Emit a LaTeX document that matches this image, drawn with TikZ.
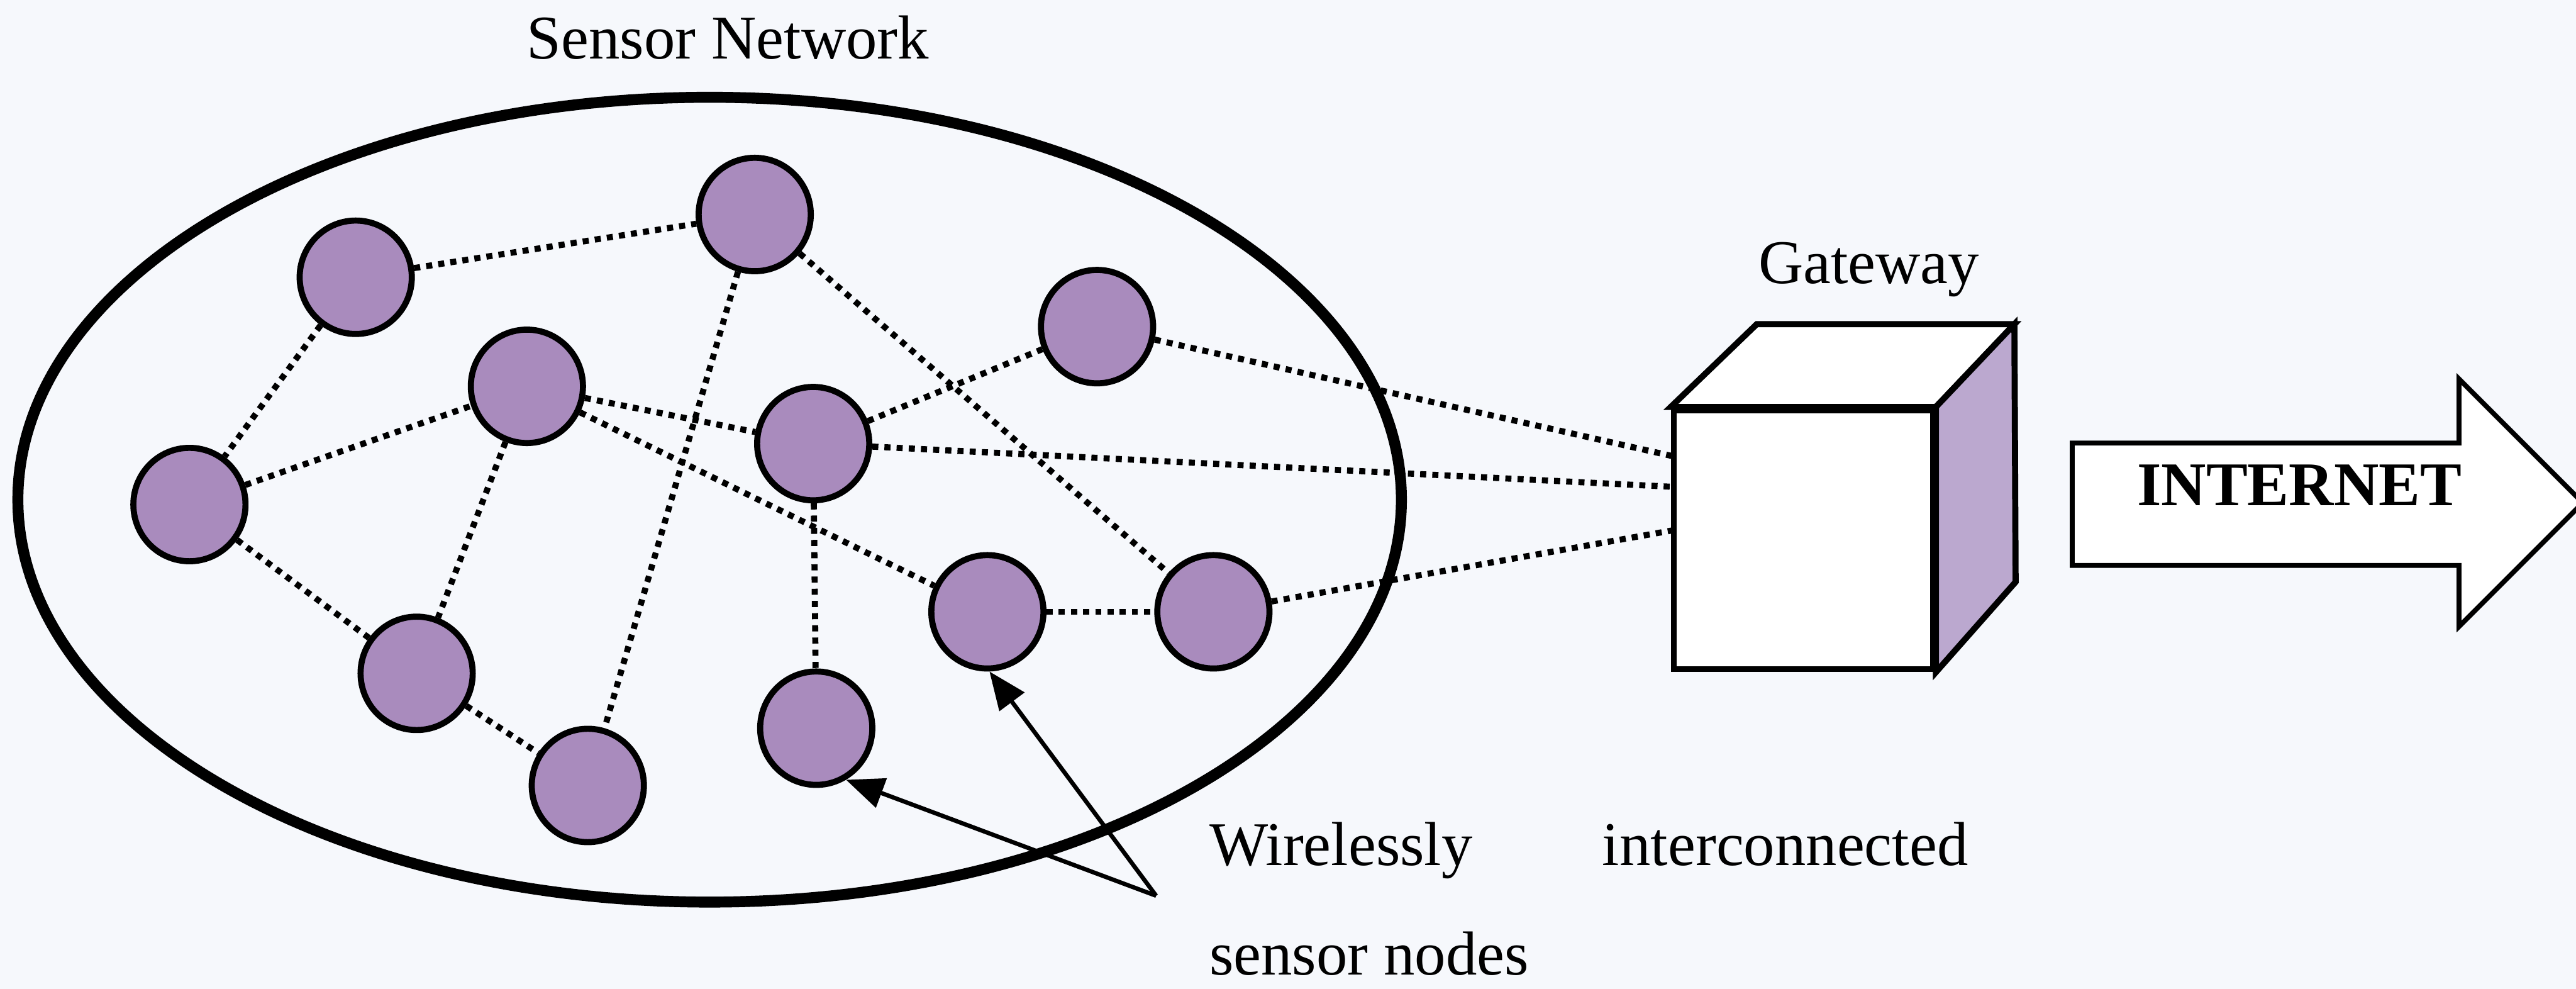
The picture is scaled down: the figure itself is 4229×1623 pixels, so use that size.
\documentclass[tikz,border=0pt]{standalone}
\usepackage{fontspec}
\setmainfont{Liberation Serif}
\usetikzlibrary{shapes.geometric,arrows.meta}

\definecolor{paper}{HTML}{F6F8FC}
\definecolor{motefill}{HTML}{A98BBD}
\definecolor{sidefill}{HTML}{BBA8CF}

\begin{document}
\begin{tikzpicture}[x=0.01cm,y=-0.01cm,
  mote/.style={ellipse, draw=black, fill=motefill, line width=0.1cm,
    minimum width=1.84cm, minimum height=1.86cm, inner sep=0pt},
  link/.style={black, line width=0.1cm, dash pattern=on 0.1cm off 0.1cm},
  txt/.style={font=\fontsize{29}{34}\selectfont, inner sep=0pt},
  pointer/.style={black, line width=0.07cm,
    -{Triangle[length=0.62cm,width=0.5cm]}},
  solid edge/.style={draw=black, line width=0.1cm, line join=miter}
]
% page
\useasboundingbox (0,0) rectangle (4229,1623);
\fill[paper] (0,0) rectangle (4229,1623);

% network boundary
\node[ellipse, draw=black, line width=0.18cm, minimum width=22.7cm,
  minimum height=13.2cm, inner sep=0pt] (field) at (1165,820) {};
\node[txt, anchor=base] (title) at (1195,97) {Sensor Network};

% sensor motes
\node[mote] (n1) at (584,455) {};
\node[mote] (n2) at (1239,352) {};
\node[mote] (n3) at (865,634) {};
\node[mote] (n4) at (1801,536) {};
\node[mote] (n5) at (1335,728) {};
\node[mote] (n6) at (311,828) {};
\node[mote] (n7) at (684,1105) {};
\node[mote] (n8) at (965,1289) {};
\node[mote] (n9) at (1340,1195) {};
\node[mote] (n10) at (1621,1004) {};
\node[mote] (n11) at (1992,1004) {};

% gateway cube
\node[draw=black, fill=white, line width=0.1cm, minimum width=4.25cm,
  minimum height=4.25cm, inner sep=0pt] (gw) at (2960.5,885.5) {};
\coordinate (gwbl) at (2884,532);
\coordinate (gwbr) at (3307,532);
\coordinate (gwbd) at (3309,955);
\filldraw[solid edge, fill=white] (gw.north west) -- (gwbl) -- (gwbr) -- (gw.north east) -- cycle;
\filldraw[solid edge, fill=sidefill] (gw.north east) -- (gwbr) -- (gwbd) -- (gw.south east) -- cycle;
\node[txt, anchor=base] (gwlabel) at (3068,465) {Gateway};

% link ends on the gateway
\coordinate (gwA) at (2748,749);
\coordinate (gwB) at (2748,799);
\coordinate (gwC) at (2748,870);

% wireless links
\draw[link] (n1) -- (n2);
\draw[link] (n1) -- (n6);
\draw[link] (n6) -- (n3);
\draw[link] (n6) -- (n7);
\draw[link] (n3) -- (n5);
\draw[link] (n3) -- (n10);
\draw[link] (n3) -- (n7);
\draw[link] (n2) -- (n8);
\draw[link] (n2) -- (n11);
\draw[link] (n7) -- (n8);
\draw[link] (n5) -- (n4);
\draw[link] (n5) -- (n9);
\draw[link] (n10) -- (n11);
\draw[link] (n4) -- (gwA);
\draw[link] (n5) -- (gwB);
\draw[link] (n11) -- (gwC);

% internet arrow
\filldraw[draw=black, fill=white, line width=0.08cm, line join=miter]
  (3402,727) -- (4037,727) -- (4037,622) -- (4240,825) -- (4037,1028)
  -- (4037,928) -- (3402,928) -- cycle;
\node[txt, anchor=base, font=\fontsize{29}{34}\selectfont\bfseries] (net) at (3775,830) {INTERNET};

% caption with pointers
\coordinate (fork) at (1898,1470);
\draw[pointer] (fork) -- (n9.-60);
\draw[pointer] (fork) -- (n10.-88);
\node[txt, anchor=base west] (cap1) at (1985,1420) {Wirelessly};
\node[txt, anchor=base west] (cap2) at (2630,1420) {interconnected};
\node[txt, anchor=base west] (cap3) at (1985,1600) {sensor nodes};
\end{tikzpicture}
\end{document}
